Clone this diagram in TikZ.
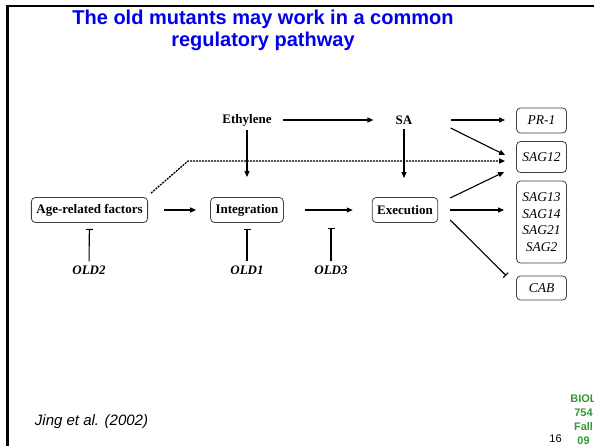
\documentclass[tikz,border=0pt]{standalone}
\usepackage{fontspec}
\setmainfont{Liberation Serif}
\newfontfamily\arialfont{Liberation Sans}
\usetikzlibrary{arrows.meta}
\definecolor{titleblue}{RGB}{0,0,235}
\definecolor{coursegreen}{RGB}{51,153,51}
\tikzstyle{stage}=[draw=black!75, rounded corners=4pt, line width=0.8pt, inner xsep=5pt, minimum height=25pt, font=\fontsize{13}{15}\selectfont\bfseries]
\tikzstyle{signal}=[inner sep=0pt, font=\fontsize{13}{15}\selectfont\bfseries]
\tikzstyle{gene}=[draw=black!75, rounded corners=4pt, line width=0.8pt, minimum width=50pt, inner sep=2pt, align=center, font=\fontsize{13.5}{16.5}\selectfont\itshape]
\tikzstyle{mutant}=[inner sep=0pt, font=\fontsize{13}{15}\selectfont\bfseries\itshape]
\tikzstyle{arr}=[line width=1.1pt, -{Triangle[length=6pt,width=5pt]}]
\tikzstyle{inh}=[line width=1.1pt, -{Bar[width=7pt,line width=1.1pt]}]
\tikzstyle{dotarr}=[arr, line width=1.3pt, dash pattern=on 2pt off 1pt]

\begin{document}
\begin{tikzpicture}[x=1pt, y=-1pt]
        \useasboundingbox (0,0) rectangle (594,446);
        \fill[white] (0,0) rectangle (594,446);
        % slide frame
        \draw[line width=2.5pt] (7.5,446) -- (7.5,6) -- (594,6);
        \node[font=\arialfont\fontsize{20}{22}\selectfont\bfseries, text=titleblue, align=center] (title) at (263,30.5) {The old mutants may work in a common\\regulatory pathway};
        % pathway
        \node[signal] (ethylene) at (247,120) {Ethylene};
        \node[signal] (sa) at (404,120) {SA};
        \node[stage] (agefactors) at (89.5,210) {Age-related factors};
        \node[stage] (integration) at (247,210) {Integration};
        \node[stage] (execution) at (405,210) {Execution};
        \node[gene, minimum height=25pt] (pr1) at (541.5,120.5) {PR-1};
        \node[gene, minimum height=31pt] (sag12) at (541.5,157) {SAG12};
        \node[gene, minimum height=82pt] (sagmany) at (541.5,222) {SAG13\\SAG14\\SAG21\\SAG2};
        \node[gene, minimum height=24pt] (cab) at (541.5,288) {CAB};
        \node[mutant] (old2) at (89,270) {OLD2};
        \node[mutant] (old1) at (247,270) {OLD1};
        \node[mutant] (old3) at (331,270) {OLD3};
        \coordinate (intexec) at (331,210);
        \coordinate (bend) at (188,161);
        \draw[arr, shorten <=11pt, shorten >=22pt] (ethylene.east) -- (sa.west);
        \draw[arr, shorten <=4pt, shorten >=20pt] (ethylene) -- (integration.north);
        \draw[arr, shorten <=4pt, shorten >=19pt] (sa) -- (sa |- execution.north);
        \draw[arr, shorten <=38pt, shorten >=11pt] (sa.east) -- (sa.east -| pr1.west);
        \draw[arr] ([xshift=38pt,yshift=-8pt]sa.east) -- ([xshift=-11pt,yshift=2pt]sag12.west);
        \draw[dotarr, shorten >=11pt] ([xshift=3pt,yshift=4pt]agefactors.north east) -- (bend) -- (bend -| sag12.west);
        \draw[arr, shorten <=16pt, shorten >=14pt] (agefactors) -- (integration);
        \draw[arr, shorten <=21pt, shorten >=19pt] (integration) -- (execution);
        \draw[arr] ([xshift=12pt,yshift=12pt]execution.east) -- ([xshift=-12pt,yshift=-15pt]sag12.west);
        \draw[arr, shorten <=12pt, shorten >=12pt] (execution.east) -- (execution.east -| sagmany.west);
        \draw[inh] ([xshift=12pt,yshift=-10pt]execution.east) -- ([xshift=-10pt]cab.north west);
        \draw[inh, shorten <=4pt, shorten >=6pt] (old2) -- (agefactors);
        \draw[inh, shorten <=4pt, shorten >=6pt] (old1) -- (integration);
        \draw[inh, shorten <=4pt, shorten >=18pt] (old3) -- (intexec);
        % footer
        \node[font=\arialfont\itshape\fontsize{15}{17}\selectfont] (citation) at (91.5,422) {Jing et al. (2002)};
        \node[font=\arialfont\bfseries\fontsize{11}{14}\selectfont, text=coursegreen, align=center, anchor=north] (course) at (583.5,391) {BIOL\\754\\Fall\\09};
        \node[font=\arialfont\fontsize{11}{14}\selectfont] (slideno) at (555.5,438.5) {16};
\end{tikzpicture}
\end{document}
